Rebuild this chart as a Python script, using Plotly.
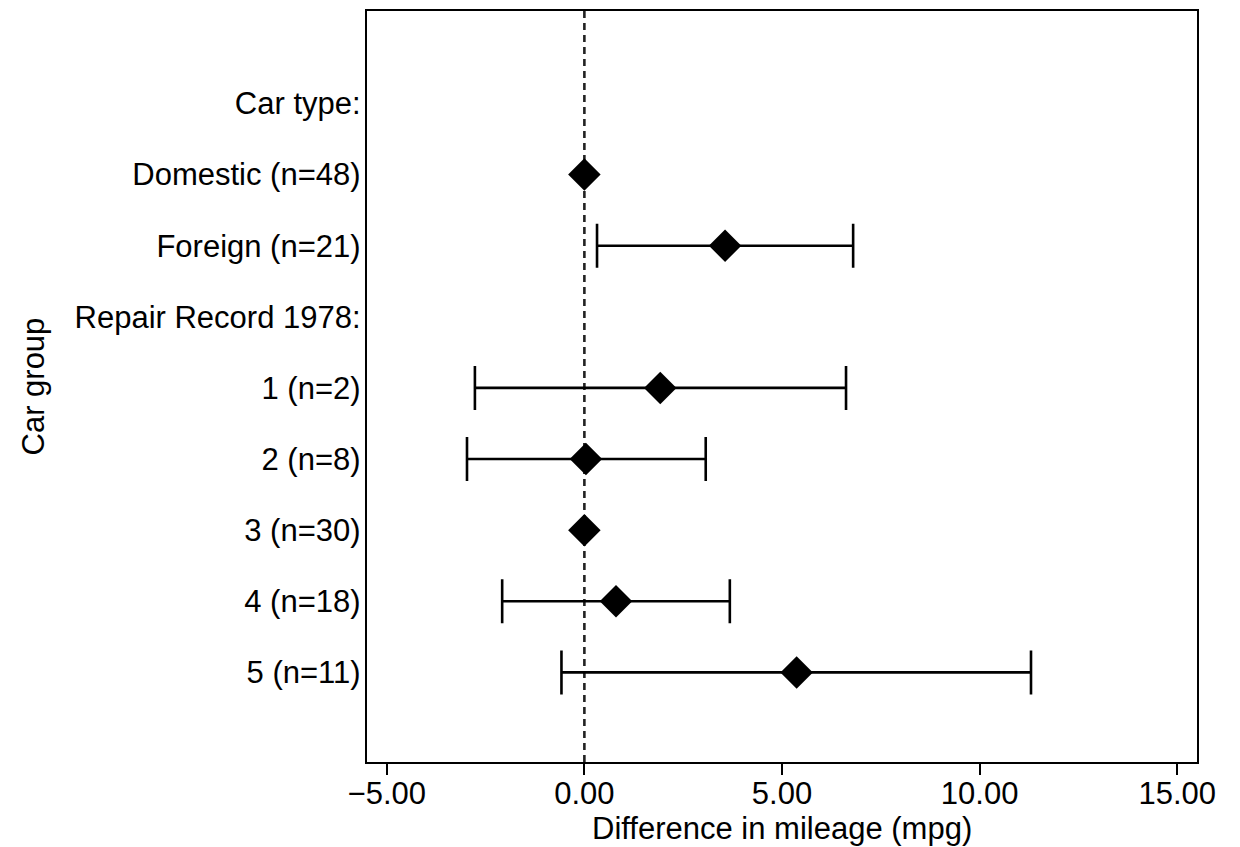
import plotly.graph_objects as go

labels = ["Car type:", "Domestic (n=48)", "Foreign (n=21)", "Repair Record 1978:",
          "1 (n=2)", "2 (n=8)", "3 (n=30)", "4 (n=18)", "5 (n=11)"]
estimate = [None, 0.0, 3.56, None, 1.92, 0.04, 0.0, 0.80, 5.37]
lower = [None, None, 0.32, None, -2.77, -2.97, None, -2.08, -0.58]
upper = [None, None, 6.80, None, 6.62, 3.07, None, 3.68, 11.30]
xticks = [-5, 0, 5, 10, 15]
xticktext = ["\u22125.00", "0.00", "5.00", "10.00", "15.00"]

n = len(labels)
ypos = [n - i for i in range(n)]  # 9 .. 1

FONT = "Liberation Sans, Arial, sans-serif"
FS = 31

fig = go.Figure()

# rows with confidence intervals
ci_idx = [i for i in range(n) if estimate[i] is not None and lower[i] is not None]
fig.add_trace(go.Scatter(
    x=[estimate[i] for i in ci_idx],
    y=[ypos[i] for i in ci_idx],
    mode="markers",
    marker=dict(symbol="diamond", size=25, color="black", line=dict(width=0)),
    error_x=dict(type="data", symmetric=False,
                 array=[upper[i] - estimate[i] for i in ci_idx],
                 arrayminus=[estimate[i] - lower[i] for i in ci_idx],
                 color="black", thickness=2.6, width=22),
    showlegend=False, hoverinfo="skip",
))

# reference rows (no CI)
ref_idx = [i for i in range(n) if estimate[i] is not None and lower[i] is None]
fig.add_trace(go.Scatter(
    x=[estimate[i] for i in ref_idx],
    y=[ypos[i] for i in ref_idx],
    mode="markers",
    marker=dict(symbol="diamond", size=25, color="black", line=dict(width=0)),
    showlegend=False, hoverinfo="skip",
))

fig.add_shape(type="line", xref="x", yref="paper", x0=0, x1=0, y0=0, y1=1,
              line=dict(color="#222222", width=2.6, dash="7px,5px"), layer="below")

fig.update_layout(
    width=1240, height=847,
    margin=dict(l=367, r=43, t=9, b=85),
    paper_bgcolor="white", plot_bgcolor="white",
    font=dict(family=FONT, size=FS, color="black"),
    xaxis=dict(range=[-5.5, 15.5], tickvals=xticks, ticktext=xticktext,
               ticks="outside", ticklen=11, tickwidth=2.4, tickcolor="black",
               ticklabelstandoff=-8,
               showline=True, linecolor="black", linewidth=2.4, mirror=True,
               showgrid=False, zeroline=False,
               tickfont=dict(family=FONT, size=FS, color="black")),
    yaxis=dict(range=[-0.26, 10.30], tickvals=ypos, ticktext=labels,
               ticks="", ticklabelstandoff=-2,
               showline=True, linecolor="black", linewidth=2.4, mirror=True,
               showgrid=False, zeroline=False,
               tickfont=dict(family=FONT, size=FS, color="black")),
    annotations=[
        dict(text="Difference in mileage (mpg)", xref="paper", yref="paper",
             x=0.5, y=0, yshift=-66, xanchor="center", yanchor="middle",
             showarrow=False, font=dict(family=FONT, size=FS, color="black")),
        dict(text="Car group", xref="paper", yref="paper",
             x=0, xshift=-334, y=0.5, xanchor="center", yanchor="middle",
             textangle=-90, showarrow=False,
             font=dict(family=FONT, size=FS, color="black")),
    ],
)

fig.write_html("out.html")
